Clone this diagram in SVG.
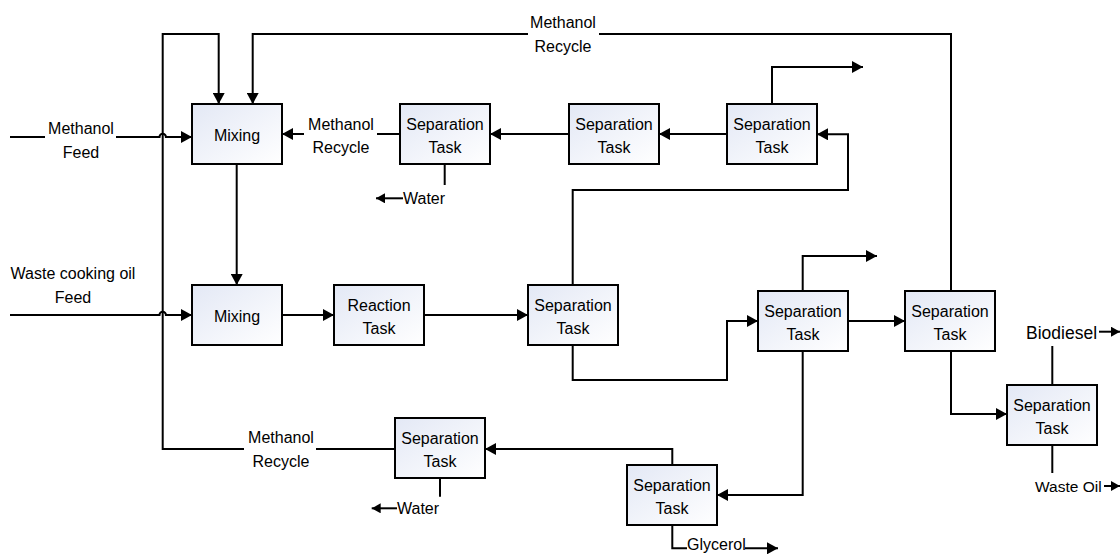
<svg xmlns="http://www.w3.org/2000/svg" width="1120" height="554" viewBox="0 0 1120 554">
<style>
.box{fill:url(#g);stroke:#000;stroke-width:2}
.c{fill:none;stroke:#000;stroke-width:2}
.a{marker-end:url(#ah)}
.s{marker-end:url(#as)}
text{font-family:"Liberation Sans",Arial,sans-serif;font-size:16px;fill:#000}
.m{text-anchor:middle}
</style>
<defs>
<linearGradient id="g" x1="0" y1="0" x2="1" y2="1">
<stop offset="0" stop-color="#e3e8f5"/>
<stop offset="1" stop-color="#ffffff"/>
</linearGradient>
<marker id="ah" markerUnits="userSpaceOnUse" viewBox="0 0 11 12" refX="11" refY="6" markerWidth="11" markerHeight="12" orient="auto">
<path d="M0,0 L11,6 L0,12 z" fill="#000"/>
</marker>
<marker id="as" markerUnits="userSpaceOnUse" viewBox="0 0 9 10" refX="9" refY="5" markerWidth="9" markerHeight="10" orient="auto">
<path d="M0,0 L9,5 L0,10 z" fill="#000"/>
</marker>
</defs>
<g id="connectors">
<path class="c" d="M10,137 H45"/>
<path class="c a" d="M116,137 H159.5 a3.2,3.2 0 0 1 6.4,0 H192"/>
<path class="c a" d="M10,315 H159.5 a3.2,3.2 0 0 1 6.4,0 H192"/>
<path class="c" d="M395,449 H316"/>
<path class="c a" d="M244,449 H162.7 V34 H218.7 V104"/>
<path class="c" d="M951,291 V34 H599"/>
<path class="c a" d="M528,34 H252.7 V104"/>
<path class="c" d="M400,134 H377"/>
<path class="c a" d="M304,134 H282"/>
<path class="c a" d="M569,134 H490"/>
<path class="c a" d="M727,134 H659"/>
<path class="c a" d="M772,104 V67 H863"/>
<path class="c a" d="M572.7,285 V190 H848 V134.3 H817"/>
<path class="c" d="M444.7,164 V185"/>
<path class="c s" d="M403,198.3 H376"/>
<path class="c a" d="M236.7,164 V285"/>
<path class="c a" d="M282,315 H334"/>
<path class="c a" d="M424,315 H528"/>
<path class="c a" d="M572.7,345 V380 H727 V321 H758"/>
<path class="c a" d="M802.7,291 V256 H877"/>
<path class="c a" d="M848,321 H905"/>
<path class="c a" d="M951,351 V414 H1007"/>
<path class="c" d="M1052.3,385 V346"/>
<path class="c s" d="M1099,331.7 H1120"/>
<path class="c" d="M1052.3,445 V473"/>
<path class="c s" d="M1104,486 H1120"/>
<path class="c a" d="M802.7,351 V495 H717"/>
<path class="c a" d="M672.3,465 V449 H485"/>
<path class="c" d="M440,478.7 V496.7"/>
<path class="c s" d="M397,508.3 H371.7"/>
<path class="c" d="M672.3,525.7 V548.3 H687"/>
<path class="c a" d="M745,548.3 H778"/>
</g>
<g id="labels">
<text class="m" x="81" y="134">Methanol</text>
<text class="m" x="81" y="158">Feed</text>
<text class="m" x="341" y="130">Methanol</text>
<text class="m" x="341" y="153">Recycle</text>
<text class="m" x="563" y="28">Methanol</text>
<text class="m" x="563" y="52">Recycle</text>
<text class="m" x="281" y="443">Methanol</text>
<text class="m" x="281" y="467">Recycle</text>
<text class="m" x="73" y="279">Waste cooking oil</text>
<text class="m" x="73" y="303">Feed</text>
<text x="403" y="204">Water</text>
<text x="397" y="514">Water</text>
<text x="687" y="550">Glycerol</text>
<text x="1026" y="339" style="font-size:17.5px">Biodiesel</text>
<text x="1035" y="492" style="font-size:15.5px">Waste Oil</text>
</g>
<g id="mix1"><rect class="box" x="192" y="104" width="90" height="60"/><text class="m" x="237" y="141">Mixing</text></g>
<g id="sepA"><rect class="box" x="400" y="104" width="90" height="60"/><text class="m" x="445" y="130">Separation</text><text class="m" x="445" y="153">Task</text></g>
<g id="sepB"><rect class="box" x="569" y="104" width="90" height="60"/><text class="m" x="614" y="130">Separation</text><text class="m" x="614" y="153">Task</text></g>
<g id="sepC"><rect class="box" x="727" y="104" width="90" height="60"/><text class="m" x="772" y="130">Separation</text><text class="m" x="772" y="153">Task</text></g>
<g id="mix2"><rect class="box" x="192" y="285" width="90" height="60"/><text class="m" x="237" y="322">Mixing</text></g>
<g id="reaction"><rect class="box" x="334" y="285" width="90" height="60"/><text class="m" x="379" y="311">Reaction</text><text class="m" x="379" y="334">Task</text></g>
<g id="sepD"><rect class="box" x="528" y="285" width="90" height="60"/><text class="m" x="573" y="311">Separation</text><text class="m" x="573" y="334">Task</text></g>
<g id="sepE"><rect class="box" x="758" y="291" width="90" height="60"/><text class="m" x="803" y="317">Separation</text><text class="m" x="803" y="340">Task</text></g>
<g id="sepF"><rect class="box" x="905" y="291" width="90" height="60"/><text class="m" x="950" y="317">Separation</text><text class="m" x="950" y="340">Task</text></g>
<g id="sepG"><rect class="box" x="1007" y="385" width="90" height="60"/><text class="m" x="1052" y="411">Separation</text><text class="m" x="1052" y="434">Task</text></g>
<g id="sepI"><rect class="box" x="395" y="418" width="90" height="60"/><text class="m" x="440" y="444">Separation</text><text class="m" x="440" y="467">Task</text></g>
<g id="sepH"><rect class="box" x="627" y="465" width="90" height="60"/><text class="m" x="672" y="491">Separation</text><text class="m" x="672" y="514">Task</text></g>
</svg>
